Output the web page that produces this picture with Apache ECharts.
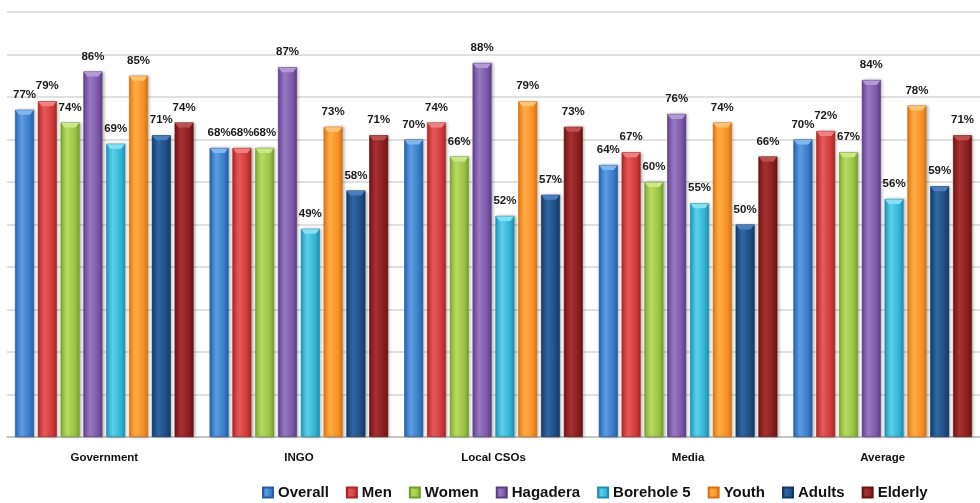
<!DOCTYPE html>
<html>
<head>
<meta charset="utf-8">
<title>Perception by stakeholder group</title>
<script src="https://cdn.jsdelivr.net/npm/echarts@6/dist/echarts.min.js"></script>
<style>
  html, body { margin: 0; padding: 0; background: #ffffff; }
  #chart { width: 980px; height: 503px; }
</style>
</head>
<body>
<div id="chart"></div>
<script>
// Categories along the x axis
const categories = ['Government', 'INGO', 'Local CSOs', 'Media', 'Average'];

// Percentages per respondent group
const overall   = [77, 68, 70, 64, 70];
const men       = [79, 68, 74, 67, 72];
const women     = [74, 68, 66, 60, 67];
const hagadera  = [86, 87, 88, 76, 84];
const borehole5 = [69, 49, 52, 55, 56];
const youth     = [85, 73, 79, 74, 78];
const adults    = [71, 58, 57, 50, 59];
const elderly   = [74, 71, 73, 66, 71];

const seriesNames = ['Overall', 'Men', 'Women', 'Hagadera', 'Borehole 5', 'Youth', 'Adults', 'Elderly'];
const seriesValues = [overall, men, women, hagadera, borehole5, youth, adults, elderly];

// Shaded palette: [light, base, dark, cap]
const palette = [
  ['#5c9de2', '#3a7ccd', '#285e9e', '#7fb6ee'],
  ['#e65a5a', '#d23a3a', '#a42828', '#f08080'],
  ['#b6da62', '#9bc444', '#759e30', '#cbe88a'],
  ['#977ac2', '#7c58a9', '#5b3e84', '#b29ad6'],
  ['#5ccfea', '#32b5d7', '#208fad', '#86e0f4'],
  ['#ffab45', '#f79124', '#d47316', '#ffc375'],
  ['#2f67a5', '#1f4e84', '#153863', '#4a7fbd'],
  ['#a63232', '#8b1f1f', '#681414', '#bf5050']
];

const BAR_W = 19;
const BAR_GAP_RATIO = 0.2;
const GAP = BAR_W * BAR_GAP_RATIO;
const N = seriesNames.length;
const FONT = "'Liberation Sans', Arial, sans-serif";

function bodyGradient(p) {
  return new echarts.graphic.LinearGradient(0, 0, 1, 0, [
    { offset: 0, color: p[2] },
    { offset: 0.12, color: p[1] },
    { offset: 0.35, color: p[0] },
    { offset: 0.75, color: p[1] },
    { offset: 1, color: p[2] }
  ]);
}

const series = [];
seriesNames.forEach((name, k) => {
  const p = palette[k];
  series.push({
    name: name,
    type: 'bar',
    data: seriesValues[k],
    barWidth: BAR_W,
    barGap: (BAR_GAP_RATIO * 100) + '%',
    itemStyle: {
      color: bodyGradient(p),
      borderColor: p[2],
      borderWidth: 0.6,
      shadowColor: 'rgba(0,0,0,0.28)',
      shadowBlur: 3,
      shadowOffsetX: 1.5,
      shadowOffsetY: 0
    },
    label: {
      show: true,
      position: 'top',
      distance: 9,
      formatter: '{c}%',
      color: '#1a1a1a',
      fontFamily: FONT,
      fontWeight: 'bold',
      fontSize: 11.5
    },
    emphasis: { disabled: true }
  });
  // Bevelled top cap drawn on each bar
  series.push({
    name: name,
    type: 'custom',
    silent: true,
    z: 3,
    data: seriesValues[k].map((v, i) => [i, v]),
    encode: { x: 0, y: 1 },
    renderItem: function (params, api) {
      const pt = api.coord([api.value(0), api.value(1)]);
      const groupW = N * BAR_W + (N - 1) * GAP;
      const x0 = pt[0] - groupW / 2 + k * (BAR_W + GAP);
      const top = pt[1];
      return {
        type: 'polygon',
        shape: {
          points: [
            [x0 + 0.5, top + 0.5], [x0 + BAR_W - 0.5, top + 0.5],
            [x0 + BAR_W - 4, top + 5], [x0 + 4, top + 5]
          ]
        },
        style: { fill: p[3], stroke: null }
      };
    }
  });
});

const chart = echarts.init(document.getElementById('chart'), null, { renderer: 'canvas' });
chart.setOption({
  animation: false,
  backgroundColor: '#ffffff',
  grid: { left: 7, top: 12, width: 979, height: 425, containLabel: false },
  legend: {
    data: seriesNames,
    left: 262,
    top: 485,
    padding: 0,
    itemWidth: 10,
    itemHeight: 10,
    itemGap: 17,
    icon: 'rect',
    textStyle: { fontFamily: FONT, fontWeight: 'bold', fontSize: 15, color: '#111' }
  },
  xAxis: {
    type: 'category',
    data: categories,
    axisLine: { lineStyle: { color: '#bdbdbd', width: 1.5 } },
    axisTick: { show: false },
    axisLabel: { margin: 15, color: '#111', fontFamily: FONT, fontWeight: 'bold', fontSize: 11.5 }
  },
  yAxis: {
    type: 'value',
    min: 0,
    max: 100,
    interval: 10,
    axisLabel: { show: false },
    axisLine: { show: false },
    axisTick: { show: false },
    splitLine: { lineStyle: { color: '#d6d6d6', width: 1.5 } }
  },
  series: series
});
</script>
</body>
</html>
